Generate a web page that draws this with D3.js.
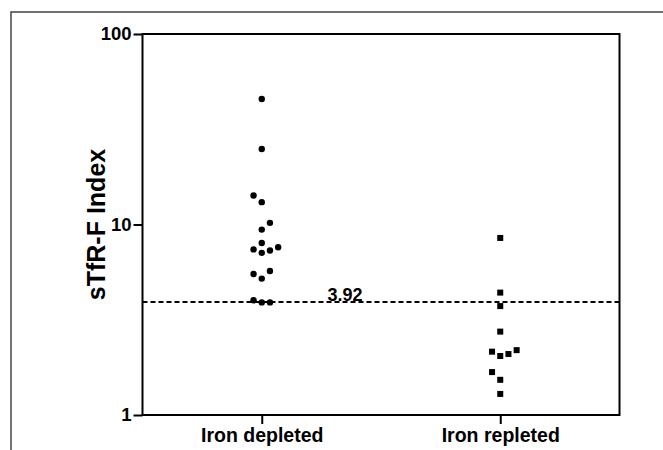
<!DOCTYPE html>
<html><head><meta charset="utf-8">
<script src="https://cdn.jsdelivr.net/npm/d3@7"></script>
<style>
body{margin:0;background:#fff;}
text{font-family:"Liberation Sans",Arial,sans-serif;font-weight:bold;fill:#000;}
</style></head>
<body><svg id="chart" width="663" height="450"></svg>
<script>
const categories = ["Iron depleted", "Iron repleted"];
const depletedValues = [45.6, 24.9, 14.2, 13.1, 10.2, 9.4, 8.0, 7.4, 7.1, 7.3, 7.6, 5.5, 5.2, 5.7, 4.0, 3.9, 3.9];
const depletedColumn = [0, 0, -1, 0, 1, 0, 0, -1, 0, 1, 2, -1, 0, 1, -1, 0, 1];
const repletedValues = [8.5, 4.39, 3.73, 2.74, 2.15, 2.04, 2.09, 2.19, 1.68, 1.53, 1.29];
const repletedColumn = [0, 0, 0, 0, -1, 0, 1, 2, -1, 0, 0];
const yTicks = [1, 10, 100];
const cutoff = 3.92;
const yTitle = "sTfR-F Index";

const svg = d3.select("#chart");
const L = 142.5, R = 619.5, T = 34, B = 415;

// outer frame
svg.append("path").attr("d", "M11,450V12H663").attr("fill", "none")
  .attr("stroke", "#444").attr("stroke-width", 1.5);

const x = d3.scalePoint().domain(categories).range([L, R]).padding(0.5);
const y = d3.scaleLog().domain([1, 100]).range([B, T]);
const spacing = 8.2;

// plot box
svg.append("rect").attr("x", L).attr("y", T).attr("width", R - L).attr("height", B - T)
  .attr("fill", "none").attr("stroke", "#000").attr("stroke-width", 2);

const yAxis = svg.append("g").attr("transform", `translate(${L},0)`)
  .call(d3.axisLeft(y).tickValues(yTicks).tickFormat(d3.format("d")).tickSize(9).tickPadding(2));
yAxis.select(".domain").remove();
yAxis.selectAll("line").attr("stroke", "#000").attr("stroke-width", 2);
yAxis.selectAll("text").attr("font-size", 18.5).attr("font-family", "Liberation Sans, Arial, sans-serif").attr("font-weight", "bold");

const xAxis = svg.append("g").attr("transform", `translate(0,${B})`)
  .call(d3.axisBottom(x).tickSize(9).tickPadding(4));
xAxis.select(".domain").remove();
xAxis.selectAll("line").attr("stroke", "#000").attr("stroke-width", 2);
xAxis.selectAll("text").attr("font-size", 19.5).attr("font-family", "Liberation Sans, Arial, sans-serif").attr("font-weight", "bold");

svg.append("text").attr("transform", `translate(105,${(T + B) / 2}) rotate(-90)`)
  .attr("text-anchor", "middle").attr("font-size", 25).text(yTitle);

// cutoff line
svg.append("line").attr("x1", L).attr("x2", R).attr("y1", y(cutoff)).attr("y2", y(cutoff))
  .attr("stroke", "#000").attr("stroke-width", 2).attr("stroke-dasharray", "5,3");
svg.append("text").attr("x", 345).attr("y", y(cutoff) - 1).attr("text-anchor", "middle")
  .attr("font-size", 18).text(cutoff.toFixed(2));

// depleted circles
svg.append("g").selectAll("circle").data(depletedValues).join("circle")
  .attr("cx", (d, i) => x(categories[0]) + depletedColumn[i] * spacing)
  .attr("cy", d => y(d)).attr("r", 3.2).attr("fill", "#000");

// repleted squares
const s = 6;
svg.append("g").selectAll("rect").data(repletedValues).join("rect")
  .attr("x", (d, i) => x(categories[1]) + repletedColumn[i] * spacing - s / 2)
  .attr("y", d => y(d) - s / 2).attr("width", s).attr("height", s).attr("fill", "#000");
</script></body></html>
